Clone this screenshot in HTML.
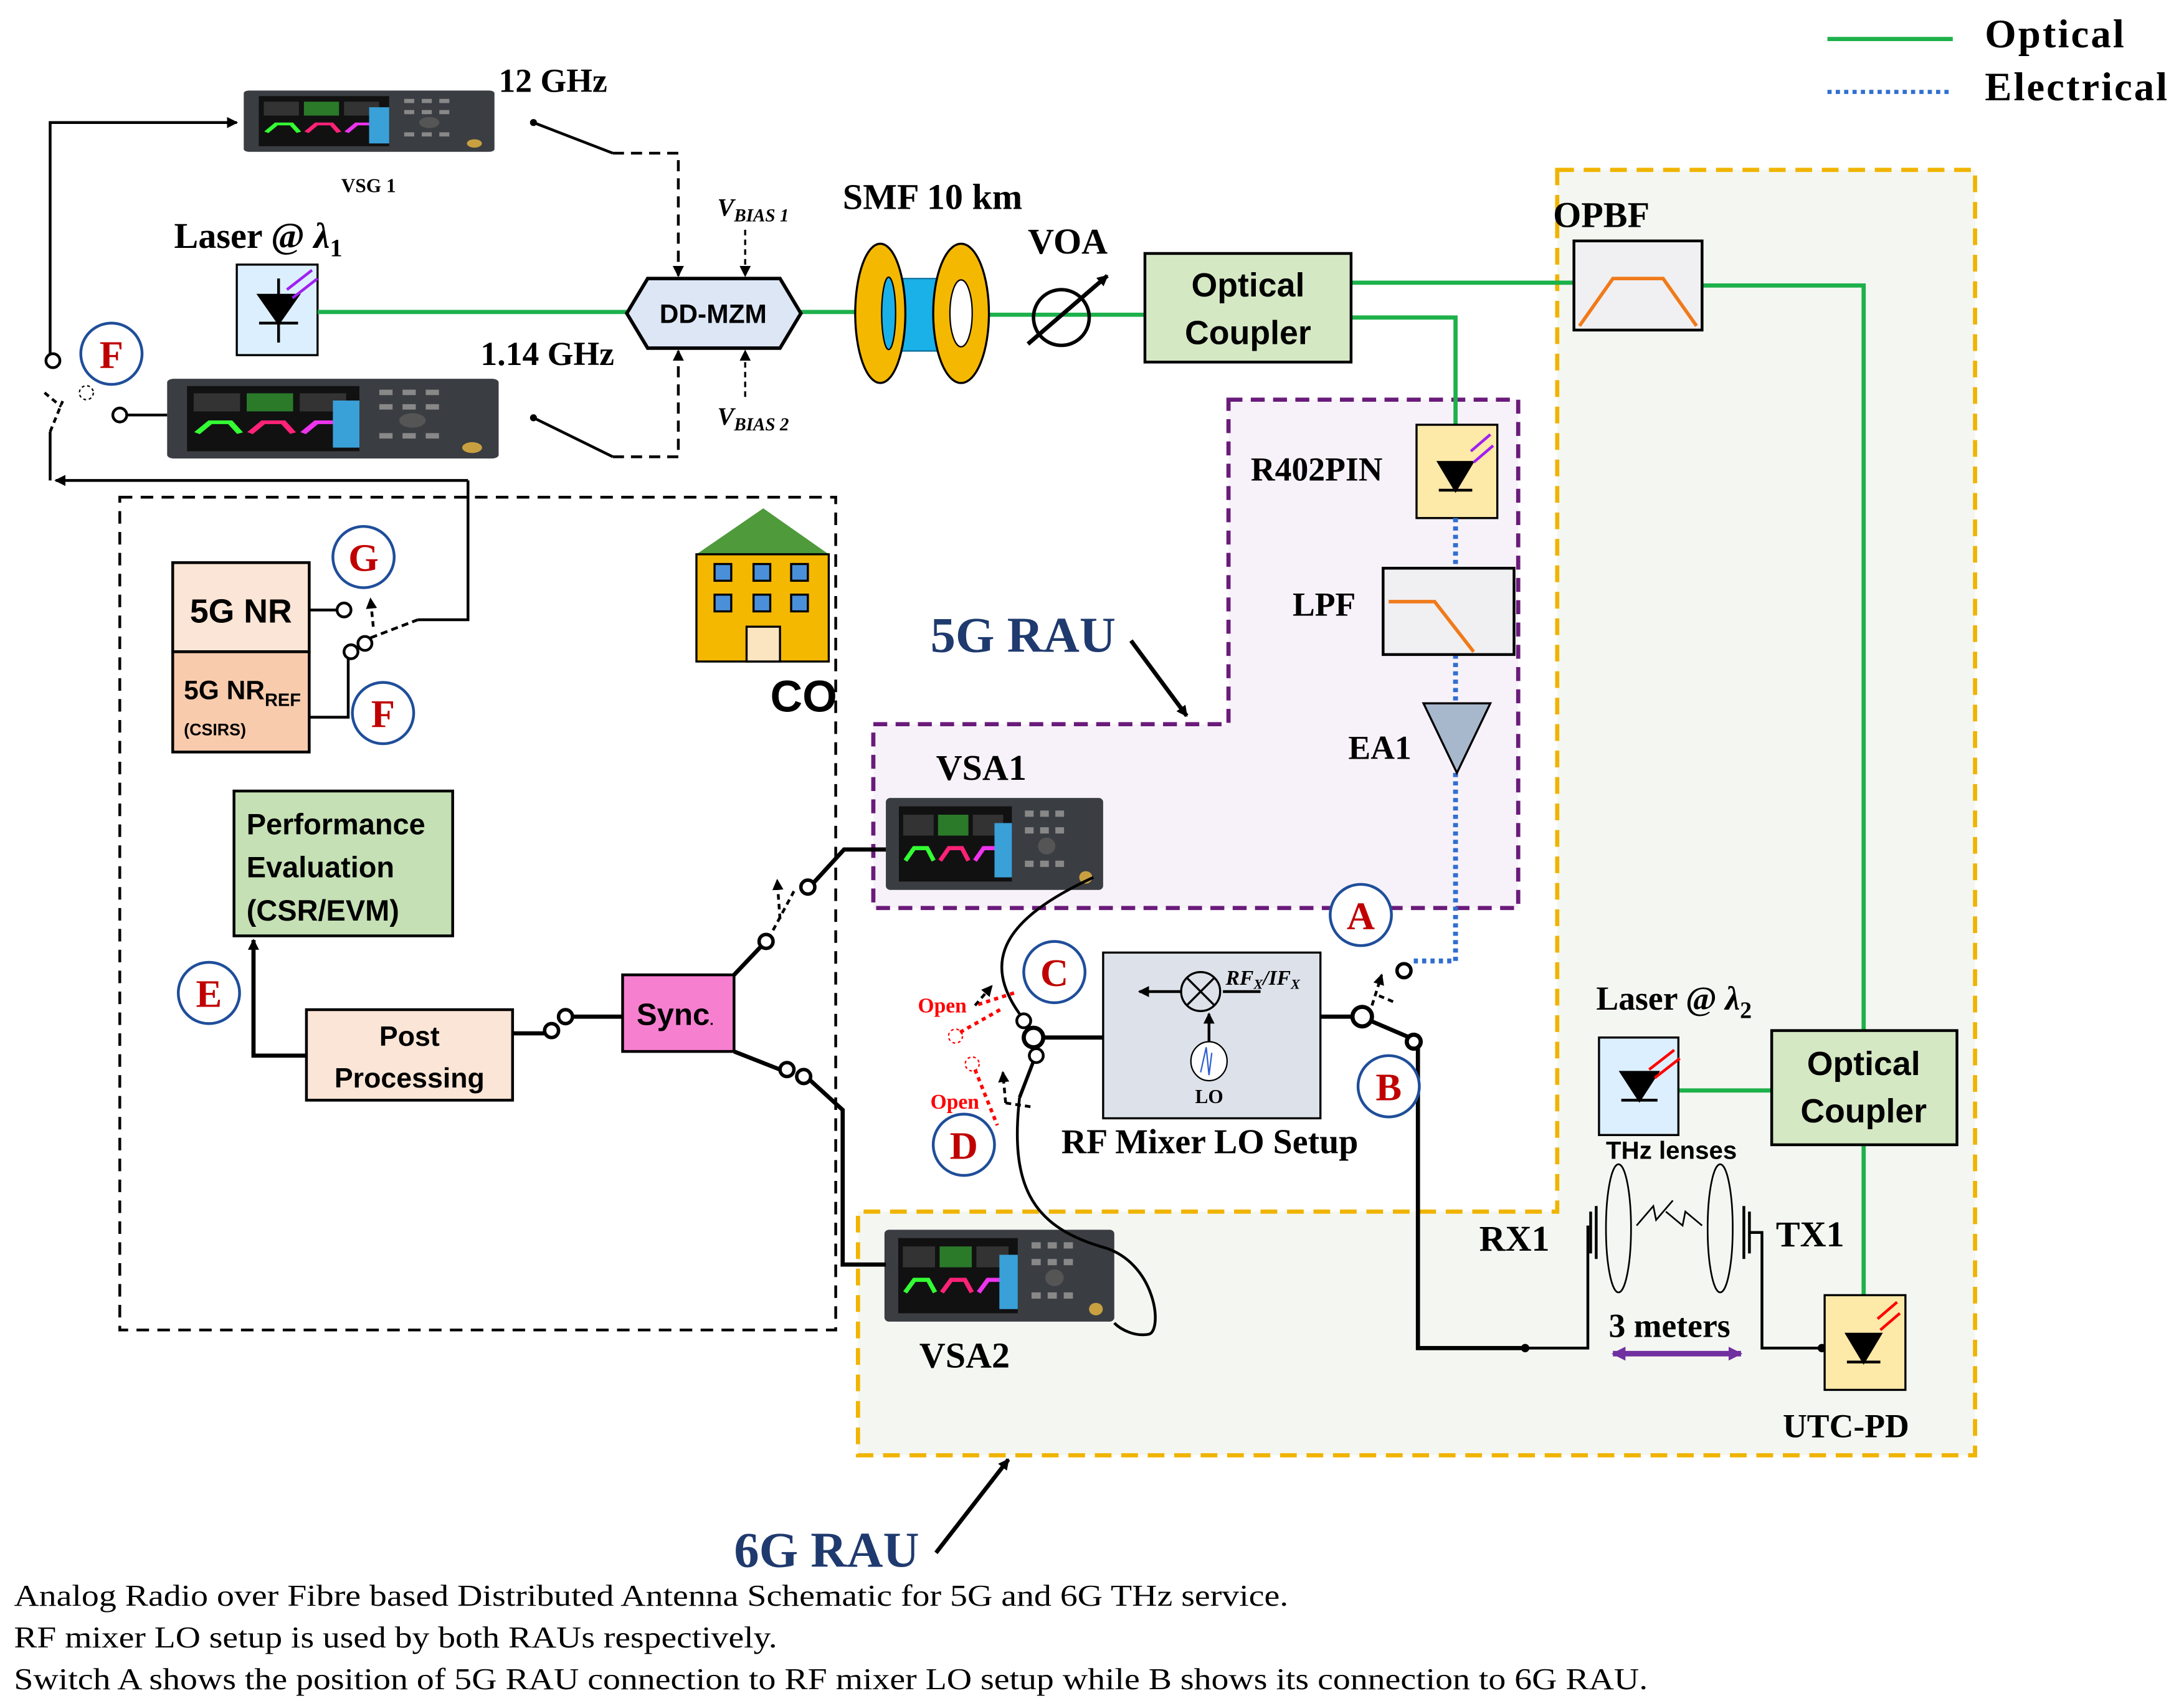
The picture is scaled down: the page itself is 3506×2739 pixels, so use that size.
<!DOCTYPE html>
<html><head><meta charset="utf-8"><style>
html,body{margin:0;padding:0;background:#fff;}
svg{display:block;}
.t{font-family:"Liberation Serif",serif;font-weight:bold;}
.s{font-family:"Liberation Sans",sans-serif;font-weight:bold;}
</style></head><body>
<svg width="3506" height="2739" viewBox="0 0 1568 1225" preserveAspectRatio="none" xmlns="http://www.w3.org/2000/svg">
<defs>
<marker id="ar" markerWidth="8" markerHeight="8" refX="7" refY="4" orient="auto" markerUnits="userSpaceOnUse"><path d="M0,0 L8,4 L0,8 z" fill="#000"/></marker>
<marker id="arp" markerWidth="10" markerHeight="10" refX="9" refY="5" orient="auto-start-reverse" markerUnits="userSpaceOnUse"><path d="M0,0 L10,5 L0,10 z" fill="#7030a0"/></marker>
<g id="inst">
<rect x="0" y="0" width="100" height="44" rx="2" fill="#3a3d42"/>
<rect x="6" y="4" width="52" height="36" fill="#111"/>
<rect x="8" y="8" width="14" height="10" fill="#333"/><rect x="24" y="8" width="14" height="10" fill="#2a7a2a"/><rect x="40" y="8" width="14" height="10" fill="#333"/>
<path d="M9,30 l4,-6 l6,0 l3,6" stroke="#3f3" fill="none" stroke-width="2"/><path d="M25,30 l4,-6 l6,0 l3,6" stroke="#f27" fill="none" stroke-width="2"/><path d="M41,30 l4,-6 l6,0 l3,6" stroke="#e3e" fill="none" stroke-width="2"/>
<rect x="50" y="12" width="8" height="26" fill="#3aa0d8"/>
<g fill="#888"><rect x="64" y="6" width="4" height="3"/><rect x="71" y="6" width="4" height="3"/><rect x="78" y="6" width="4" height="3"/><rect x="64" y="14" width="4" height="3"/><rect x="71" y="14" width="4" height="3"/><rect x="78" y="14" width="4" height="3"/><rect x="64" y="30" width="4" height="3"/><rect x="71" y="30" width="4" height="3"/><rect x="78" y="30" width="4" height="3"/></g>
<circle cx="74" cy="23" r="4" fill="#555"/><circle cx="92" cy="38" r="3" fill="#c8a040"/>
</g>
</defs>

<path d="M1118,122 H1418 V1045 H616 V870 H1118 Z" fill="#f4f6f1" stroke="#f0b400" stroke-width="3" stroke-dasharray="12,7"/>
<path d="M882,287 H1090 V652 H627 V520 H882 Z" fill="#f7f2f9" stroke="#6a1b7a" stroke-width="3" stroke-dasharray="10,6"/>
<path d="M86,357 H600 V955 H86 Z" fill="none" stroke="#000" stroke-width="2" stroke-dasharray="9,6"/>

<line x1="1312" y1="28" x2="1402" y2="28" stroke="#1db14b" stroke-width="3"/>
<text x="1425" y="34" class="t" font-size="29" textLength="100">Optical</text>
<line x1="1312" y1="66" x2="1402" y2="66" stroke="#2f6fd0" stroke-width="3" stroke-dasharray="3,3"/>
<text x="1425" y="72" class="t" font-size="29" textLength="131">Electrical</text>

<use href="#inst" transform="translate(175,65) scale(1.8,1.0)"/>
<text x="245" y="138" class="t" font-size="14">VSG 1</text>
<text x="358" y="66" class="t" font-size="24">12 GHz</text>
<use href="#inst" transform="translate(120,272) scale(2.38,1.3)"/>
<text x="345" y="262" class="t" font-size="24">1.14 GHz</text>
<use href="#inst" transform="translate(636,573) scale(1.56,1.5)"/>
<text x="672" y="560" class="t" font-size="26">VSA1</text>
<use href="#inst" transform="translate(635,883) scale(1.65,1.5)"/>
<text x="660" y="982" class="t" font-size="26">VSA2</text>

<rect x="170" y="190" width="58" height="65" fill="#dcefff" stroke="#000" stroke-width="1.5"/>
<path d="M186,212 h28 l-14,20 z M186,232 h28 M200,200 v12 M200,232 v14" stroke="#000" stroke-width="2" fill="#000"/>
<path d="M206,208 l18,-14 M210,214 l18,-14" stroke="#a020f0" stroke-width="2"/>
<text x="125" y="178" class="t" font-size="26">Laser @ <tspan font-style="italic">λ</tspan><tspan font-size="18" dy="6">1</tspan></text>

<g stroke="#1db14b" stroke-width="3" fill="none">
<path d="M228,224 H452"/><path d="M574,224 H622"/><path d="M710,226 H822"/>
<path d="M970,203 H1130"/><path d="M970,228 H1045 V305"/>
<path d="M1222,205 H1338 V740"/><path d="M1205,783 H1272"/><path d="M1338,822 V930"/>
</g>

<path d="M450,225 L465,200 H560 L575,225 L560,250 H465 Z" fill="#dce6f5" stroke="#000" stroke-width="2.5"/>
<text x="512" y="232" class="s" font-size="19" text-anchor="middle">DD-MZM</text>
<text x="515" y="155" class="t" font-size="18" font-style="italic">V<tspan font-size="13" dy="4">BIAS 1</tspan></text>
<line x1="535" y1="165" x2="535" y2="198" stroke="#000" stroke-width="1.5" stroke-dasharray="4,3" marker-end="url(#ar)"/>
<text x="515" y="305" class="t" font-size="18" font-style="italic">V<tspan font-size="13" dy="4">BIAS 2</tspan></text>
<line x1="535" y1="285" x2="535" y2="252" stroke="#000" stroke-width="1.5" stroke-dasharray="4,3" marker-end="url(#ar)"/>
<path d="M383,88 L440,110" stroke="#000" stroke-width="2"/><circle cx="383" cy="88" r="2.5"/>
<path d="M440,110 H487 V198" stroke="#000" stroke-width="2" stroke-dasharray="8,5" fill="none" marker-end="url(#ar)"/>
<path d="M383,300 L440,328" stroke="#000" stroke-width="2"/><circle cx="383" cy="300" r="2.5"/>
<path d="M440,328 H487 V252" stroke="#000" stroke-width="2" stroke-dasharray="8,5" fill="none" marker-end="url(#ar)"/>

<text x="605" y="150" class="t" font-size="26">SMF 10 km</text>
<rect x="632" y="200" width="58" height="52" fill="#1ab0e8"/>
<path d="M632,200 H690 M632,252 H690" stroke="#0a6e9a" stroke-width="1"/>
<ellipse cx="632" cy="225" rx="18" ry="50" fill="#f5b800" stroke="#000" stroke-width="1.5"/>
<ellipse cx="638" cy="225" rx="5" ry="26" fill="#1ab0e8" stroke="#000" stroke-width="1"/>
<ellipse cx="690" cy="225" rx="20" ry="50" fill="#f5b800" stroke="#000" stroke-width="1.5"/>
<ellipse cx="690" cy="225" rx="8" ry="24" fill="#fff" stroke="#000"/>

<text x="738" y="182" class="t" font-size="26">VOA</text>
<circle cx="762" cy="228" r="20" fill="none" stroke="#000" stroke-width="2.5"/>
<line x1="738" y1="247" x2="795" y2="198" stroke="#000" stroke-width="3" marker-end="url(#ar)"/>

<rect x="822" y="182" width="148" height="78" fill="#d5e8c4" stroke="#000" stroke-width="2"/>
<text x="896" y="213" class="s" font-size="24" text-anchor="middle">Optical</text>
<text x="896" y="247" class="s" font-size="24" text-anchor="middle">Coupler</text>

<text x="1115" y="163" class="t" font-size="26">OPBF</text>
<rect x="1130" y="173" width="92" height="64" fill="#f0f0f2" stroke="#000" stroke-width="2"/>
<path d="M1134,234 L1158,200 H1194 L1218,234" stroke="#f07a1a" stroke-width="2.5" fill="none"/>

<text x="898" y="345" class="t" font-size="24">R402PIN</text>
<rect x="1017" y="305" width="58" height="67" fill="#fde9a8" stroke="#000" stroke-width="1.5"/>
<path d="M1033,332 h24 l-12,20 z M1033,352 h24" stroke="#000" stroke-width="2" fill="#000"/>
<path d="M1070,312 l-14,12 M1072,320 l-14,12" stroke="#a020f0" stroke-width="2"/>
<g stroke="#2f6fd0" stroke-width="3.5" stroke-dasharray="3,3" fill="none">
<path d="M1045,372 V408"/><path d="M1045,470 V505"/><path d="M1045,555 V690 H1012"/>
</g>
<text x="928" y="442" class="t" font-size="24">LPF</text>
<rect x="993" y="408" width="94" height="62" fill="#f0f0f2" stroke="#000" stroke-width="2"/>
<path d="M997,432 H1030 L1058,468" stroke="#f07a1a" stroke-width="2.5" fill="none"/>
<text x="968" y="545" class="t" font-size="24">EA1</text>
<path d="M1022,505 H1070 L1046,555 Z" fill="#a8b8cc" stroke="#000" stroke-width="1.5"/>

<text x="668" y="468" class="t" font-size="36" fill="#1f3a6e">5G RAU</text>
<line x1="812" y1="460" x2="852" y2="514" stroke="#000" stroke-width="3" marker-end="url(#ar)"/>

<rect x="792" y="684" width="156" height="119" fill="#dde2ea" stroke="#000" stroke-width="1.5"/>
<circle cx="862" cy="712" r="14" fill="none" stroke="#000" stroke-width="1.5"/>
<path d="M852,702 L872,722 M872,702 L852,722" stroke="#000" stroke-width="1.5"/>
<line x1="848" y1="712" x2="818" y2="712" stroke="#000" stroke-width="2" marker-end="url(#ar)"/>
<line x1="905" y1="712" x2="878" y2="712" stroke="#000" stroke-width="2"/>
<text x="880" y="707" class="t" font-size="15" font-style="italic">RF<tspan font-size="10" dy="3">X</tspan><tspan dy="-3">/IF</tspan><tspan font-size="10" dy="3">X</tspan></text>
<line x1="868" y1="748" x2="868" y2="728" stroke="#000" stroke-width="2" marker-end="url(#ar)"/>
<ellipse cx="868" cy="762" rx="13" ry="14" fill="#fff" stroke="#000"/>
<path d="M862,770 L866,752 L868,772 L870,756" stroke="#2f5fd0" fill="none"/>
<text x="858" y="792" class="t" font-size="14">LO</text>
<text x="762" y="828" class="t" font-size="25">RF Mixer LO Setup</text>

<path d="M948,730 H972" stroke="#000" stroke-width="3"/>
<circle cx="978" cy="730" r="7" fill="#fff" stroke="#000" stroke-width="3"/>
<path d="M984,733 L1012,745" stroke="#000" stroke-width="3"/>
<circle cx="1015" cy="748" r="5" fill="#fff" stroke="#000" stroke-width="3"/>
<circle cx="1008" cy="697" r="5" fill="#fff" stroke="#000" stroke-width="2.5"/>
<path d="M985,722 L992,700" stroke="#000" stroke-width="2" stroke-dasharray="4,3" marker-end="url(#ar)"/>
<path d="M990,715 L1002,720" stroke="#000" stroke-width="2" stroke-dasharray="4,3"/>
<path d="M1018,752 V968 H1095" stroke="#000" stroke-width="3" fill="none"/>
<circle cx="1095" cy="968" r="3"/>
<path d="M1095,968 H1140 V880" stroke="#000" stroke-width="2" fill="none"/>

<path d="M792,745 H748" stroke="#000" stroke-width="3"/>
<circle cx="742" cy="745" r="7" fill="#fff" stroke="#000" stroke-width="3"/>
<circle cx="735" cy="733" r="5" fill="#fff" stroke="#000" stroke-width="2"/>
<circle cx="744" cy="758" r="5" fill="#fff" stroke="#000" stroke-width="2"/>
<path d="M732,728 C705,690 720,660 785,630" stroke="#000" stroke-width="2" fill="none"/>
<path d="M742,762 L732,788" stroke="#000" stroke-width="2.5"/>
<path d="M732,788 C725,850 740,880 790,895 C830,905 835,955 825,958 C815,960 805,955 800,950" stroke="#000" stroke-width="2" fill="none"/>
<path d="M728,713 L700,722" stroke="red" stroke-width="2.5" stroke-dasharray="3,3"/>
<path d="M718,725 L688,742" stroke="red" stroke-width="2.5" stroke-dasharray="3,3"/>
<circle cx="686" cy="744" r="5" fill="none" stroke="red" stroke-dasharray="2,2"/>
<circle cx="698" cy="764" r="5" fill="none" stroke="red" stroke-dasharray="2,2"/>
<path d="M700,768 L716,808" stroke="red" stroke-width="2.5" stroke-dasharray="3,3"/>
<path d="M722,792 L742,795" stroke="#000" stroke-width="2" stroke-dasharray="4,3"/>
<path d="M722,792 L720,770" stroke="#000" stroke-width="2" stroke-dasharray="4,3" marker-end="url(#ar)"/>
<path d="M700,722 L712,708" stroke="#000" stroke-width="2" stroke-dasharray="4,3" marker-end="url(#ar)"/>
<text x="659" y="727" class="t" font-size="15" fill="red">Open</text>
<text x="668" y="796" class="t" font-size="15" fill="red">Open</text>

<text x="1153" y="832" class="s" font-size="18">THz lenses</text>
<ellipse cx="1162" cy="882" rx="9" ry="46" fill="none" stroke="#000" stroke-width="1.2"/>
<ellipse cx="1235" cy="882" rx="9" ry="46" fill="none" stroke="#000" stroke-width="1.2"/>
<path d="M1142,870 V900 M1146,866 V904 M1256,870 V900 M1252,866 V904" stroke="#000" stroke-width="2"/>
<path d="M1175,880 l12,-14 l2,10 l12,-14 M1222,880 l-12,-10 l-2,10 l-12,-10" stroke="#000" stroke-width="1.2" fill="none"/>
<text x="1062" y="898" class="t" font-size="26">RX1</text>
<text x="1275" y="895" class="t" font-size="26">TX1</text>
<path d="M1256,885 H1265 V968 H1308" stroke="#000" stroke-width="2" fill="none"/>
<circle cx="1308" cy="968" r="3"/>
<text x="1155" y="960" class="t" font-size="24">3 meters</text>
<line x1="1158" y1="972" x2="1250" y2="972" stroke="#7030a0" stroke-width="4" marker-start="url(#arp)" marker-end="url(#arp)"/>

<text x="1146" y="725" class="t" font-size="24">Laser @ <tspan font-style="italic">λ</tspan><tspan font-size="17" dy="6">2</tspan></text>
<rect x="1148" y="745" width="57" height="70" fill="#dcefff" stroke="#000" stroke-width="1.5"/>
<path d="M1164,770 h26 l-13,20 z M1164,790 h26" stroke="#000" stroke-width="2" fill="#000"/>
<path d="M1184,768 l18,-14 M1188,774 l18,-14" stroke="red" stroke-width="2"/>
<rect x="1272" y="740" width="133" height="82" fill="#d5e8c4" stroke="#000" stroke-width="2"/>
<text x="1338" y="772" class="s" font-size="24" text-anchor="middle">Optical</text>
<text x="1338" y="806" class="s" font-size="24" text-anchor="middle">Coupler</text>
<rect x="1310" y="930" width="58" height="68" fill="#fde9a8" stroke="#000" stroke-width="1.5"/>
<path d="M1326,958 h24 l-12,20 z M1326,978 h24" stroke="#000" stroke-width="2" fill="#000"/>
<path d="M1362,935 l-14,12 M1364,943 l-14,12" stroke="red" stroke-width="2"/>
<text x="1280" y="1032" class="t" font-size="24">UTC-PD</text>

<text x="527" y="1125" class="t" font-size="36" fill="#1f3a6e">6G RAU</text>
<line x1="672" y1="1115" x2="724" y2="1048" stroke="#000" stroke-width="3" marker-end="url(#ar)"/>

<path d="M500,398 L548,365 L595,398 Z" fill="#4f9a3a"/>
<rect x="500" y="398" width="95" height="77" fill="#f5b800" stroke="#000" stroke-width="1.5"/>
<g fill="#4a90d9" stroke="#000" stroke-width="1.5"><rect x="513" y="405" width="12" height="12"/><rect x="541" y="405" width="12" height="12"/><rect x="568" y="405" width="12" height="12"/><rect x="513" y="427" width="12" height="12"/><rect x="541" y="427" width="12" height="12"/><rect x="568" y="427" width="12" height="12"/></g>
<rect x="536" y="450" width="24" height="25" fill="#fbe5c0" stroke="#000" stroke-width="1.5"/>
<text x="553" y="511" class="s" font-size="32">CO</text>

<path d="M36,255 V88 H170" stroke="#000" stroke-width="2" fill="none" marker-end="url(#ar)"/>
<circle cx="38" cy="259" r="5" fill="#fff" stroke="#000" stroke-width="2"/>
<circle cx="86" cy="298" r="5" fill="#fff" stroke="#000" stroke-width="2"/>
<path d="M91,298 H120" stroke="#000" stroke-width="2"/>
<circle cx="62" cy="282" r="5" fill="none" stroke="#000" stroke-dasharray="2,2"/>
<path d="M36,310 L45,288 M32,282 L44,292" stroke="#000" stroke-width="2" stroke-dasharray="4,3"/>
<path d="M36,310 V345" stroke="#000" stroke-width="2"/>
<path d="M336,345 H40" stroke="#000" stroke-width="2" marker-end="url(#ar)"/>
<path d="M336,345 V445 H300" stroke="#000" stroke-width="2" fill="none"/>

<rect x="124" y="404" width="98" height="64" fill="#fbe5d6" stroke="#000" stroke-width="2"/>
<text x="173" y="447" class="s" font-size="24" text-anchor="middle">5G NR</text>
<rect x="124" y="468" width="98" height="72" fill="#f8cbad" stroke="#000" stroke-width="2"/>
<text x="132" y="502" class="s" font-size="19">5G NR<tspan font-size="13" dy="5">REF</tspan></text>
<text x="132" y="528" class="s" font-size="12">(CSIRS)</text>
<path d="M222,438 H242" stroke="#000" stroke-width="2"/>
<circle cx="247" cy="438" r="5" fill="#fff" stroke="#000" stroke-width="2"/>
<path d="M222,515 H250 V472" stroke="#000" stroke-width="2" fill="none"/>
<circle cx="252" cy="468" r="5" fill="#fff" stroke="#000" stroke-width="2"/>
<circle cx="262" cy="462" r="5" fill="#fff" stroke="#000" stroke-width="2"/>
<path d="M266,458 L300,445" stroke="#000" stroke-width="2" stroke-dasharray="5,3"/>
<path d="M268,450 L266,430" stroke="#000" stroke-width="2" stroke-dasharray="4,3" marker-end="url(#ar)"/>

<rect x="168" y="568" width="157" height="104" fill="#c5e0b4" stroke="#000" stroke-width="2"/>
<text x="177" y="599" class="s" font-size="21">Performance</text>
<text x="177" y="630" class="s" font-size="21">Evaluation</text>
<text x="177" y="661" class="s" font-size="21">(CSR/EVM)</text>
<rect x="220" y="725" width="148" height="65" fill="#fbe5d6" stroke="#000" stroke-width="2"/>
<text x="294" y="751" class="s" font-size="20" text-anchor="middle">Post</text>
<text x="294" y="781" class="s" font-size="20" text-anchor="middle">Processing</text>
<path d="M220,758 H182 V675" stroke="#000" stroke-width="3" fill="none" marker-end="url(#ar)"/>
<rect x="447" y="700" width="80" height="55" fill="#f77fd0" stroke="#000" stroke-width="2"/>
<text x="457" y="736" class="s" font-size="22">Sync<tspan font-size="10">.</tspan></text>
<path d="M368,742 H392" stroke="#000" stroke-width="3"/>
<circle cx="396" cy="740" r="5" fill="#fff" stroke="#000" stroke-width="2.5"/>
<circle cx="406" cy="730" r="5" fill="#fff" stroke="#000" stroke-width="2.5"/>
<path d="M411,730 H447" stroke="#000" stroke-width="3"/>
<path d="M527,700 L546,680" stroke="#000" stroke-width="3"/>
<circle cx="550" cy="676" r="5" fill="#fff" stroke="#000" stroke-width="2.5"/>
<path d="M555,668 L570,640" stroke="#000" stroke-width="2" stroke-dasharray="4,3"/>
<path d="M560,660 L558,632" stroke="#000" stroke-width="2" stroke-dasharray="4,3" marker-end="url(#ar)"/>
<circle cx="580" cy="637" r="5" fill="#fff" stroke="#000" stroke-width="2.5"/>
<path d="M584,634 L606,610 H636" stroke="#000" stroke-width="3" fill="none"/>
<path d="M527,755 L560,768" stroke="#000" stroke-width="3"/>
<circle cx="565" cy="768" r="5" fill="#fff" stroke="#000" stroke-width="2.5"/>
<circle cx="577" cy="773" r="5" fill="#fff" stroke="#000" stroke-width="2.5"/>
<path d="M582,776 L605,797 V908 H636" stroke="#000" stroke-width="3" fill="none"/>

<g fill="#fff" stroke="#1f4e9a" stroke-width="2">
<circle cx="80" cy="254" r="22"/><circle cx="261" cy="400" r="22"/><circle cx="275" cy="512" r="22"/>
<circle cx="150" cy="713" r="22"/><circle cx="977" cy="657" r="22"/><circle cx="997" cy="780" r="22"/>
<circle cx="757" cy="698" r="22"/><circle cx="692" cy="822" r="22"/>
</g>
<g class="t" font-size="28" fill="#c00000" text-anchor="middle">
<text x="80" y="264">F</text><text x="261" y="410">G</text><text x="275" y="522">F</text>
<text x="150" y="723">E</text><text x="977" y="667">A</text><text x="997" y="790">B</text>
<text x="757" y="708">C</text><text x="692" y="832">D</text>
</g>

<g font-family="Liberation Serif,serif" font-size="22">
<text x="10" y="1153" textLength="915" lengthAdjust="spacingAndGlyphs">Analog Radio over Fibre based Distributed Antenna Schematic for 5G and 6G THz service.</text>
<text x="10" y="1183" textLength="548" lengthAdjust="spacingAndGlyphs">RF mixer LO setup is used by both RAUs respectively.</text>
<text x="10" y="1213" textLength="1173" lengthAdjust="spacingAndGlyphs">Switch A shows the position of 5G RAU connection to RF mixer LO setup while B shows its connection to 6G RAU.</text>
</g>
</svg>
</body></html>
